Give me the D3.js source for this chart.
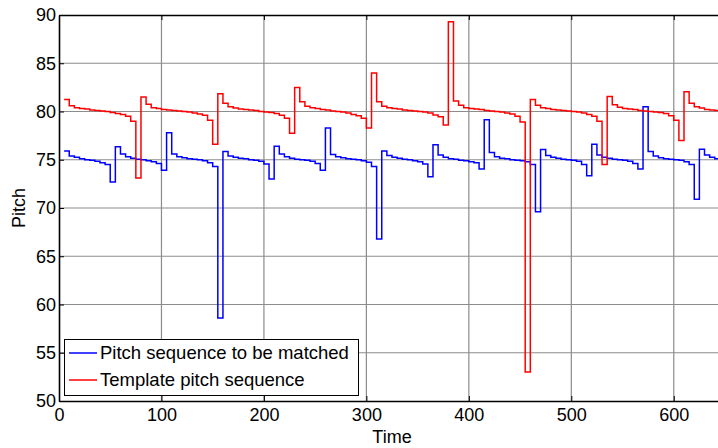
<!DOCTYPE html>
<html lang="en">
<head>
<meta charset="utf-8">
<title>Pitch sequences</title>
<script src="https://cdn.jsdelivr.net/npm/d3@7/dist/d3.min.js"></script>
<style>
body { margin: 0; background: #fff; }
svg { display: block; font-family: "Liberation Sans", Arial, sans-serif; }
</style>
</head>
<body>
<script>
// tick labels
var xTicks = [0, 100, 200, 300, 400, 500, 600];
var yTicks = [50, 55, 60, 65, 70, 75, 80, 85, 90];

// samples every 5 time units, starting at t = 5
var tStart = 5, tStep = 5;

// blue: pitch sequence to be matched
var matched = [
    75.9, 75.4, 75.25, 75.1, 75.0, 74.95, 74.85, 74.7, 74.5, 72.7,
    76.35, 75.6, 75.3, 75.15, 75.05, 75.0, 74.9, 74.8, 74.6, 73.9,
    77.8, 75.6, 75.3, 75.2, 75.1, 75.05, 75.0, 74.9, 74.7, 74.3, 58.6,
    75.85, 75.4, 75.25, 75.15, 75.1, 75.0, 74.95, 74.85, 74.55, 73.0,
    76.4, 75.6, 75.3, 75.15, 75.05, 75.0, 74.95, 74.85, 74.6, 73.9,
    78.3, 75.55, 75.3, 75.2, 75.1, 75.05, 75.0, 74.9, 74.75, 74.3, 66.8,
    75.9, 75.45, 75.25, 75.15, 75.05, 75.0, 74.9, 74.8, 74.55, 73.25,
    76.55, 75.5, 75.25, 75.1, 75.05, 74.95, 74.9, 74.8, 74.7, 74.05,
    79.15, 75.75, 75.3, 75.15, 75.1, 75.0, 74.95, 74.9, 74.8, 74.5, 69.6,
    76.05, 75.45, 75.25, 75.15, 75.05, 75.0, 74.95, 74.85, 74.5, 73.35,
    76.6, 75.5, 75.25, 75.15, 75.05, 75.0, 74.95, 74.85, 74.6, 74.05,
    80.5, 75.85, 75.4, 75.2, 75.1, 75.05, 75.0, 74.95, 74.8, 74.5, 70.9,
    76.1, 75.5, 75.25, 75.1, 75.05
];

// red: template pitch sequence
var template = [
    81.25, 80.6, 80.4, 80.3, 80.25, 80.15, 80.1, 80.05, 80.0, 79.9, 79.8, 79.7, 79.5, 79.0, 73.1,
    81.5, 80.75, 80.4, 80.3, 80.2, 80.15, 80.1, 80.05, 80.0, 79.95, 79.85, 79.75, 79.6, 79.1, 76.6,
    81.85, 80.85, 80.5, 80.35, 80.25, 80.2, 80.15, 80.1, 80.0, 79.95, 79.9, 79.8, 79.6, 79.3, 77.75,
    82.5, 81.0, 80.55, 80.4, 80.3, 80.2, 80.15, 80.05, 80.0, 79.95, 79.85, 79.7, 79.55, 79.3, 78.3,
    84.0, 81.0, 80.55, 80.4, 80.3, 80.25, 80.15, 80.1, 80.05, 80.0, 79.95, 79.85, 79.65, 79.45, 78.6,
    89.3, 81.1, 80.65, 80.4, 80.3, 80.25, 80.2, 80.1, 80.05, 80.0, 79.95, 79.85, 79.75, 79.5, 78.9, 53.0,
    81.25, 80.65, 80.4, 80.3, 80.2, 80.15, 80.1, 80.05, 80.0, 79.95, 79.85, 79.7, 79.5, 79.0, 74.5,
    81.55, 80.7, 80.45, 80.3, 80.25, 80.2, 80.1, 80.05, 80.0, 79.95, 79.9, 79.8, 79.55, 79.1, 77.0,
    82.05, 80.85, 80.5, 80.35, 80.2, 80.15, 80.1, 80.05
];

var seriesNames = ["Pitch sequence to be matched", "Template pitch sequence"];
var seriesColors = ["#0000ff", "#ff0000"];

//Width and height
var w = 718, h = 448;
var padL = 59, padR = 725, padT = 15, padB = 401;

var xScale = d3.scaleLinear().domain([0, 650]).range([padL, padR]);
var yScale = d3.scaleLinear().domain([50, 90]).range([padB, padT]);

var svg = d3.select("body").append("svg")
    .attr("width", w)
    .attr("height", h);

svg.append("defs").append("clipPath").attr("id", "plot")
    .append("rect")
    .attr("x", padL).attr("y", padT)
    .attr("width", padR - padL).attr("height", padB - padT);

//Grid
svg.append("g").selectAll("line")
    .data(xTicks.slice(1))
    .enter().append("line")
    .attr("x1", function (d) { return xScale(d); })
    .attr("x2", function (d) { return xScale(d); })
    .attr("y1", padT).attr("y2", padB)
    .attr("stroke", "#8c8c8c").attr("stroke-width", 1.2);

svg.append("g").selectAll("line")
    .data(yTicks.slice(1, -1))
    .enter().append("line")
    .attr("y1", function (d) { return yScale(d); })
    .attr("y2", function (d) { return yScale(d); })
    .attr("x1", padL).attr("x2", padR)
    .attr("stroke", "#8c8c8c").attr("stroke-width", 1.2);

//Lines
var line = d3.line()
    .x(function (d, i) { return xScale(tStart + i * tStep); })
    .y(function (d) { return yScale(d); })
    .curve(d3.curveStepAfter);

[matched, template].forEach(function (vals, k) {
    svg.append("path")
        .datum(vals)
        .attr("clip-path", "url(#plot)")
        .attr("fill", "none")
        .attr("stroke", seriesColors[k])
        .attr("stroke-width", 1.5)
        .attr("d", line);
});

//Axes
var xAxis = svg.append("g")
    .attr("transform", "translate(0," + padB + ")")
    .call(d3.axisBottom(xScale).tickValues(xTicks).tickSizeInner(-5).tickSizeOuter(0).tickPadding(7));
var yAxis = svg.append("g")
    .attr("transform", "translate(" + padL + ",0)")
    .call(d3.axisLeft(yScale).tickValues(yTicks).tickSizeInner(-5).tickSizeOuter(0).tickPadding(3));
var topAxis = svg.append("g")
    .attr("transform", "translate(0," + padT + ")")
    .call(d3.axisTop(xScale).tickValues(xTicks).tickSizeInner(-5).tickSizeOuter(0).tickFormat(""));

[xAxis, yAxis, topAxis].forEach(function (g) {
    g.select(".domain").attr("stroke", "#000").attr("stroke-width", 1.6);
    g.selectAll(".tick line").attr("stroke", "#000");
    g.selectAll("text").attr("fill", "#000")
        .style("font-family", "Liberation Sans, Arial, sans-serif")
        .style("font-size", "18px");
});

//Axis labels
svg.append("text")
    .attr("x", (padL + padR) / 2)
    .attr("y", 443)
    .attr("text-anchor", "middle")
    .style("font-size", "18px")
    .text("Time");

svg.append("text")
    .attr("transform", "translate(25," + ((padT + padB) / 2) + ") rotate(-90)")
    .attr("text-anchor", "middle")
    .style("font-size", "18px")
    .text("Pitch");

//Legend
var lg = svg.append("g");
lg.append("rect")
    .attr("x", 64.5).attr("y", 339.5)
    .attr("width", 294).attr("height", 56)
    .attr("fill", "#fff").attr("stroke", "#000").attr("stroke-width", 1);

seriesNames.forEach(function (name, k) {
    var yy = 353 + k * 27;
    lg.append("line")
        .attr("x1", 69).attr("x2", 97)
        .attr("y1", yy).attr("y2", yy)
        .attr("stroke", seriesColors[k]).attr("stroke-width", 1.5);
    lg.append("text")
        .attr("x", 100).attr("y", yy)
        .attr("dy", "0.35em")
        .style("font-size", "18.5px")
        .text(name);
});
</script>
</body>
</html>
